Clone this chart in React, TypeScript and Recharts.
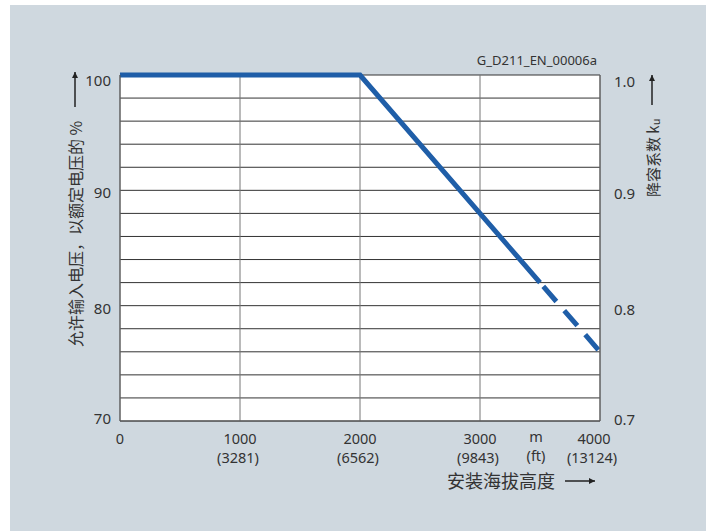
import { CartesianGrid, Line, LineChart, XAxis, YAxis } from "recharts";

// altitude in m, permissible input voltage in % of rated, derating factor ku
const altitudes = [0, 2000, 3500, 4000];
const solidVoltage = [100, 100, 82, null];
const dashedFactor = [null, null, 0.82, 0.76];

const xTicks = [0, 1000, 2000, 3000, 4000];
const xFeet = ["", "(3281)", "(6562)", "(9843)", "(13124)"];
const leftTicks = [70, 72, 74, 76, 78, 80, 82, 84, 86, 88, 90, 92, 94, 96, 98, 100];
const leftLabels = [70, 80, 90, 100];
const rightTicks = [0.7, 0.8, 0.9, 1.0];

const data = altitudes.map((alt, i) => ({ alt, solid: solidVoltage[i], ku: dashedFactor[i] }));

const TEXT = "#333";
const BLUE = "#1f5ea8";
const FONT = "'Noto Sans', sans-serif";
const CJK = "'Noto Sans CJK SC', sans-serif";
// label baseline offsets, bottom to top
const labelDy = [3, 8, 8, 11];

const XTick = (props: any) => {
  const { x, y, payload, index } = props;
  const cx = index === xTicks.length - 1 ? x - 6 : x;
  return (
    <g>
      <text x={cx} y={y + 21} textAnchor="middle" fontSize={14.5} fill={TEXT} fontFamily={FONT}>
        {payload.value}
      </text>
      {xFeet[index] ? (
        <text x={cx - 2} y={y + 40} textAnchor="middle" fontSize={14.5} fill={TEXT} fontFamily={FONT}>
          {xFeet[index]}
        </text>
      ) : null}
    </g>
  );
};

const LeftTick = (props: any) => {
  const { x, y, payload } = props;
  const i = leftLabels.indexOf(payload.value);
  if (i < 0) return null;
  return (
    <text x={x - 7} y={y + labelDy[i]} textAnchor="end" fontSize={15} fill={TEXT} fontFamily={FONT}>
      {payload.value}
    </text>
  );
};

const RightTick = (props: any) => {
  const { x, y, payload, index } = props;
  return (
    <text x={x + 12} y={y + labelDy[index] + 1} textAnchor="start" fontSize={15} fill={TEXT} fontFamily={FONT}>
      {Number(payload.value).toFixed(1)}
    </text>
  );
};

export default function App() {
  return (
    <div style={{ position: "absolute", left: 0, top: 0, width: 713, height: 531, background: "#fff" }}>
      <div style={{ position: "absolute", left: 10, top: 5, width: 696, height: 526, background: "#cfd8df" }} />
      <div style={{ position: "absolute", left: 0, top: 0 }}>
        <LineChart width={713} height={531} data={data} margin={{ top: 75, right: 0, bottom: 50, left: 0 }}>
          <CartesianGrid yAxisId="left" vertical={false} stroke="#333" fill="#fff" fillOpacity={1} />
          <CartesianGrid yAxisId="left" horizontal={false} stroke="#777" />
          <XAxis
            dataKey="alt"
            type="number"
            domain={[0, 4000]}
            ticks={xTicks}
            height={60}
            tickLine={false}
            tickSize={0}
            axisLine={{ stroke: "#555" }}
            tick={<XTick />}
            interval={0}
          />
          <YAxis
            yAxisId="left"
            domain={[70, 100]}
            ticks={leftTicks}
            width={120}
            tickLine={false}
            tickSize={0}
            axisLine={{ stroke: "#555" }}
            tick={<LeftTick />}
            interval={0}
          />
          <YAxis
            yAxisId="right"
            orientation="right"
            type="number"
            domain={[0.7, 1.0]}
            ticks={rightTicks}
            width={113}
            tickLine={false}
            tickSize={0}
            axisLine={{ stroke: "#555" }}
            tick={<RightTick />}
            interval={0}
          />
          <Line
            yAxisId="left"
            dataKey="solid"
            stroke={BLUE}
            strokeWidth={5}
            dot={false}
            isAnimationActive={false}
            strokeLinejoin="miter"
          />
          <Line
            yAxisId="right"
            dataKey="ku"
            stroke={BLUE}
            strokeWidth={5}
            strokeDasharray="20 12"
            strokeDashoffset={27}
            dot={false}
            isAnimationActive={false}
          />
        </LineChart>
      </div>
      <svg width={713} height={531} style={{ position: "absolute", left: 0, top: 0, pointerEvents: "none" }}>
        <defs>
          <marker id="arr" viewBox="0 0 10 10" refX="10" refY="5" markerWidth="10" markerHeight="6" markerUnits="userSpaceOnUse" orient="auto">
            <path d="M0,0 L10,5 L0,10 z" fill="#222" />
          </marker>
        </defs>
        <text x={597} y={65} textAnchor="end" fontSize={13} fill={TEXT} fontFamily={FONT}>
          G_D211_EN_00006a
        </text>
        <line x1={75} y1={107} x2={75} y2={72} stroke="#222" strokeWidth={1.5} markerEnd="url(#arr)" />
        <text
          x={75}
          y={347}
          transform="rotate(-90 75 347)"
          fontSize={16}
          fill={TEXT}
          fontFamily={CJK}
          dominantBaseline="central"
        >
          允许输入电压，以额定电压的 %
        </text>
        <line x1={652} y1={105} x2={652} y2={75} stroke="#222" strokeWidth={1.5} markerEnd="url(#arr)" />
        <text
          x={652}
          y={197}
          transform="rotate(-90 652 197)"
          fontSize={15}
          fill={TEXT}
          fontFamily={CJK}
          dominantBaseline="central"
        >
          降容系数 k<tspan fontSize={11} dy={3}>u</tspan>
        </text>
        <text x={536} y={442} textAnchor="middle" fontSize={14.5} fill={TEXT} fontFamily={FONT}>m</text>
        <text x={536} y={461} textAnchor="middle" fontSize={14.5} fill={TEXT} fontFamily={FONT}>(ft)</text>
        <text x={447} y={488} fontSize={18} fill={TEXT} fontFamily={CJK}>安装海拔高度</text>
        <line x1={565} y1={481} x2={595} y2={481} stroke="#222" strokeWidth={1.5} markerEnd="url(#arr)" />
      </svg>
    </div>
  );
}
